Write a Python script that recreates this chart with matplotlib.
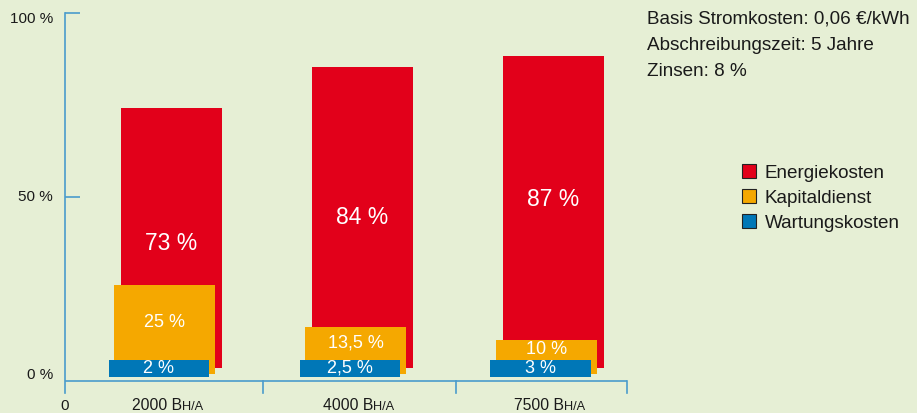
import matplotlib
matplotlib.use('Agg')
import matplotlib.pyplot as plt
from matplotlib.patches import Patch
from matplotlib.offsetbox import TextArea, HPacker, AnnotationBbox

# data
groups = ['2000', '4000', '7500']
energie = [73, 84, 87]
kapital = [25, 13.5, 10]
wartung = [2, 2.5, 3]
energie_lbl = ['73 %', '84 %', '87 %']
kapital_lbl = ['25 %', '13,5 %', '10 %']
wartung_lbl = ['2 %', '2,5 %', '3 %']
info_lines = ['Basis Stromkosten: 0,06 €/kWh', 'Abschreibungszeit: 5 Jahre', 'Zinsen: 8 %']
legend_names = ['Energiekosten', 'Kapitaldienst', 'Wartungskosten']

# layout / style
BG = '#e6efd5'
RED = '#e2001a'
ORANGE = '#f5a800'
BLUE = '#0077b7'
AXC = '#4a9ccc'
TXT = '#1a1a1a'
red_label_y = [37.5, 44.3, 49.2]
blue_min_h = 4.6   # blue boxes drawn with fixed height so the label fits
top_pad = 1.2

plt.rcParams['font.family'] = ['Liberation Sans', 'DejaVu Sans']

fig = plt.figure(figsize=(9.17, 4.13), dpi=100, facecolor=BG)
ax = fig.add_axes([65/917, 20/413, (627-65)/917, 380/413])
ax.set_facecolor(BG)
ax.set_xlim(-0.558, 2.385)
ax.set_ylim(-3.26, 100)

xs = list(range(len(groups)))
w = 0.53
for i, x in enumerate(xs):
    # red
    ax.bar(x, energie[i] + top_pad - 3.5, bottom=3.5, width=w, color=RED, zorder=2)
    # orange
    ax.bar(x - 0.037, kapital[i] + top_pad - 1.9, bottom=1.9, width=w, color=ORANGE, zorder=3)
    # blue
    ax.bar(x - 0.068, blue_min_h, bottom=1.1, width=w - 0.006, color=BLUE, zorder=4)
    ax.text(x, red_label_y[i], energie_lbl[i], color='white', fontsize=16.5,
            ha='center', va='center', zorder=5)
    ax.text(x - 0.037, (1.1 + blue_min_h + kapital[i] + top_pad) / 2, kapital_lbl[i],
            color='white', fontsize=13, ha='center', va='center', zorder=5)
    ax.text(x - 0.068, 1.1 + blue_min_h / 2, wartung_lbl[i], color='white',
            fontsize=13, ha='center', va='center', zorder=5)

    parts = [TextArea(groups[i] + ' B', textprops=dict(fontsize=11.3, color=TXT)),
             TextArea('H/A', textprops=dict(fontsize=9.2, color=TXT))]
    box = HPacker(children=parts, align='baseline', pad=0, sep=0)
    ab = AnnotationBbox(box, (x - 0.02, 0), xycoords=('data', 'axes fraction'),
                        xybox=(0, -9), boxcoords='offset points',
                        box_alignment=(0.5, 0.5), frameon=False, pad=0)
    ax.add_artist(ab)

# axes lines
for s in ['top', 'right', 'bottom']:
    ax.spines[s].set_visible(False)
ax.spines['left'].set_color(AXC)
ax.spines['left'].set_linewidth(1.2)
ax.axhline(0, color=AXC, lw=1.2, zorder=1)
for tx in [0.479, 1.49, 2.385]:
    ax.plot([tx, tx], [0, -3.26], color=AXC, lw=1.2, clip_on=False, zorder=1)

ax.set_xticks([])
ax.set_yticks([100, 50])
ax.tick_params(axis='y', direction='in', length=11, width=1.2, color=AXC, labelleft=False)

for val, lbl, dy in [(100, '100 %', -4.5), (50, '50 %', 0), (0, '0 %', 4)]:
    ax.annotate(lbl, (0, val), xycoords=('axes fraction', 'data'),
                xytext=(-8.6, dy), textcoords='offset points',
                ha='right', va='center', fontsize=11, color=TXT)
ax.annotate('0', (0, 0), xycoords='axes fraction', xytext=(0, -9),
            textcoords='offset points', ha='center', va='center', fontsize=11, color=TXT)

for k, line in enumerate(info_lines):
    fig.text(647/917, 1 - (19 + 26*k)/413, line, fontsize=13.6, color=TXT,
             ha='left', va='center')

handles = [Patch(facecolor=c, edgecolor='#222222', lw=0.8) for c in [RED, ORANGE, BLUE]]
fig.legend(handles, legend_names, loc='upper left', bbox_to_anchor=(742/917, 1 - 164/413),
           frameon=False, fontsize=13.6, handlelength=0.75, handleheight=0.75,
           handletextpad=0.45, labelspacing=0.4, borderpad=0, borderaxespad=0,
           labelcolor=TXT)

fig.savefig('out.png', dpi=100, facecolor=BG)
